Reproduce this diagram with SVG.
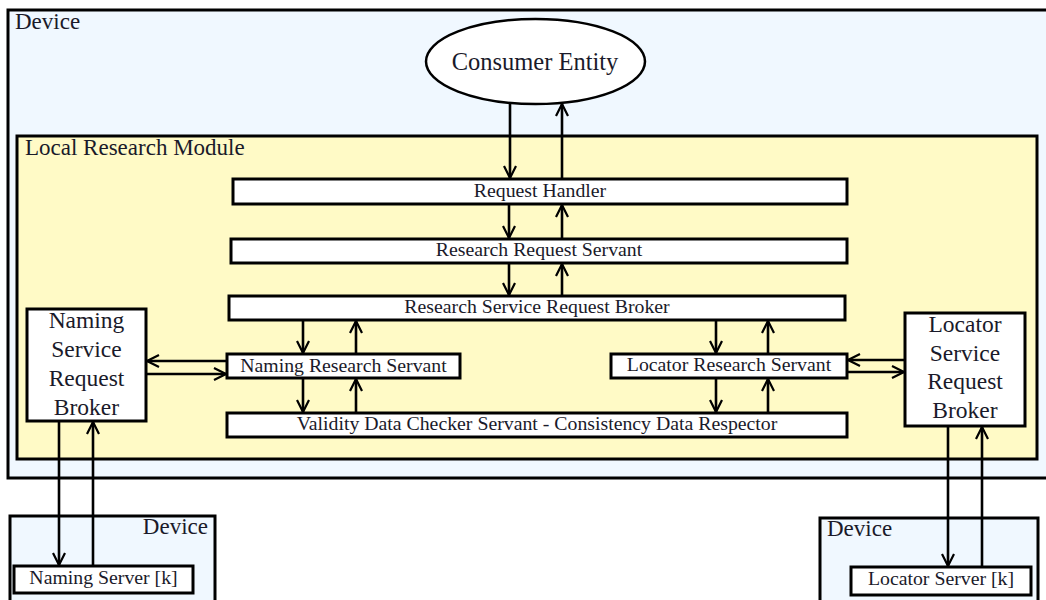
<svg xmlns="http://www.w3.org/2000/svg" width="1046" height="600" viewBox="0 0 1046 600">
  <style>
    .device { fill: #f0f8ff; stroke: #000; stroke-width: 3; }
    .module { fill: #fffac6; stroke: #000; stroke-width: 3; }
    .box { fill: #fff; stroke: #000; stroke-width: 3; }
    .txt { font-family: "Liberation Serif", "DejaVu Serif", serif; fill: #1a1a2a; }
    .lbl { font-size: 23px; }
    .node { font-size: 19.8px; text-anchor: middle; }
    .big { font-size: 23.5px; text-anchor: middle; }
    .link { fill: none; stroke: #000; stroke-width: 2.6; marker-end: url(#arrow); }
  </style>
  <defs>
    <marker id="arrow" markerUnits="userSpaceOnUse" markerWidth="14" markerHeight="14" viewBox="0 0 14 14" refX="13" refY="7" orient="auto">
      <path d="M1,1 L13,7 L1,13" fill="none" stroke="#000" stroke-width="2.2"/>
    </marker>
  </defs>

  <!-- main device and local research module containers -->
  <g id="device-main">
    <rect class="device" x="8" y="10" width="1045" height="468"/>
    <text class="txt lbl" x="15" y="29">Device</text>
  </g>
  <g id="local-research-module">
    <rect class="module" x="17" y="136" width="1020" height="323"/>
    <text class="txt lbl" x="25" y="155">Local Research Module</text>
  </g>

  <!-- remote devices -->
  <g id="device-naming">
    <rect class="device" x="10" y="516" width="205" height="90"/>
    <text class="txt lbl" x="208" y="534" text-anchor="end">Device</text>
  </g>
  <g id="device-locator">
    <rect class="device" x="820" y="518" width="218" height="90"/>
    <text class="txt lbl" x="827" y="536">Device</text>
  </g>

  <g id="consumer-entity">
    <ellipse cx="535.5" cy="61.5" rx="109.5" ry="42.5" fill="#fff" stroke="#000" stroke-width="2.5"/>
    <text class="txt" x="535" y="70" font-size="24.5" text-anchor="middle">Consumer Entity</text>
  </g>

  <g id="request-handler">
    <rect class="box" x="233" y="179" width="614" height="25"/>
    <text class="txt node" x="540" y="197">Request Handler</text>
  </g>
  <g id="research-request-servant">
    <rect class="box" x="231" y="239" width="616" height="24"/>
    <text class="txt node" x="539" y="256">Research Request Servant</text>
  </g>
  <g id="research-service-request-broker">
    <rect class="box" x="229" y="296" width="616" height="24"/>
    <text class="txt node" x="537" y="313">Research Service Request Broker</text>
  </g>
  <g id="naming-research-servant">
    <rect class="box" x="227" y="354" width="233" height="24"/>
    <text class="txt node" x="343.5" y="372">Naming Research Servant</text>
  </g>
  <g id="locator-research-servant">
    <rect class="box" x="611" y="354" width="236" height="24"/>
    <text class="txt node" x="729" y="371">Locator Research Servant</text>
  </g>
  <g id="validity-data-checker">
    <rect class="box" x="227" y="413" width="620" height="24"/>
    <text class="txt node" x="537" y="430">Validity Data Checker Servant - Consistency Data Respector</text>
  </g>
  <g id="naming-service-request-broker">
    <rect class="box" x="27" y="309" width="119" height="112"/>
    <text class="txt big" x="86.5" y="328">Naming</text>
    <text class="txt big" x="86.5" y="357">Service</text>
    <text class="txt big" x="86.5" y="386">Request</text>
    <text class="txt big" x="86.5" y="415">Broker</text>
  </g>
  <g id="locator-service-request-broker">
    <rect class="box" x="905" y="313" width="120" height="113"/>
    <text class="txt big" x="965" y="332">Locator</text>
    <text class="txt big" x="965" y="361">Service</text>
    <text class="txt big" x="965" y="389">Request</text>
    <text class="txt big" x="965" y="418">Broker</text>
  </g>
  <g id="naming-server">
    <rect class="box" x="14" y="566" width="179" height="27"/>
    <text class="txt node" x="103.5" y="584">Naming Server [k]</text>
  </g>
  <g id="locator-server">
    <rect class="box" x="851" y="567" width="180" height="28"/>
    <text class="txt node" x="941" y="585">Locator Server [k]</text>
  </g>

  <!-- request / response flows -->
  <g id="connectors">
    <line class="link" x1="510" y1="104" x2="510" y2="178" stroke-width="3"/>
    <line class="link" x1="562" y1="178" x2="562" y2="104"/>

    <line class="link" x1="509" y1="205" x2="509" y2="238"/>
    <line class="link" x1="562" y1="238" x2="562" y2="205"/>

    <line class="link" x1="509" y1="264" x2="509" y2="295"/>
    <line class="link" x1="562" y1="295" x2="562" y2="264"/>

    <line class="link" x1="303" y1="321" x2="303" y2="353"/>
    <line class="link" x1="356" y1="353" x2="356" y2="321"/>
    <line class="link" x1="716" y1="321" x2="716" y2="353"/>
    <line class="link" x1="768" y1="353" x2="768" y2="321"/>

    <line class="link" x1="303" y1="379" x2="303" y2="412"/>
    <line class="link" x1="356" y1="412" x2="356" y2="379"/>
    <line class="link" x1="716" y1="379" x2="716" y2="412"/>
    <line class="link" x1="768" y1="412" x2="768" y2="379"/>

    <line class="link" x1="226" y1="361" x2="147" y2="361"/>
    <line class="link" x1="147" y1="374" x2="226" y2="374"/>
    <line class="link" x1="904" y1="360" x2="848" y2="360"/>
    <line class="link" x1="848" y1="372" x2="904" y2="372"/>

    <line class="link" x1="59" y1="422" x2="59" y2="565"/>
    <line class="link" x1="93" y1="565" x2="93" y2="422"/>
    <line class="link" x1="948" y1="427" x2="948" y2="566"/>
    <line class="link" x1="982" y1="566" x2="982" y2="427"/>
  </g>
</svg>
